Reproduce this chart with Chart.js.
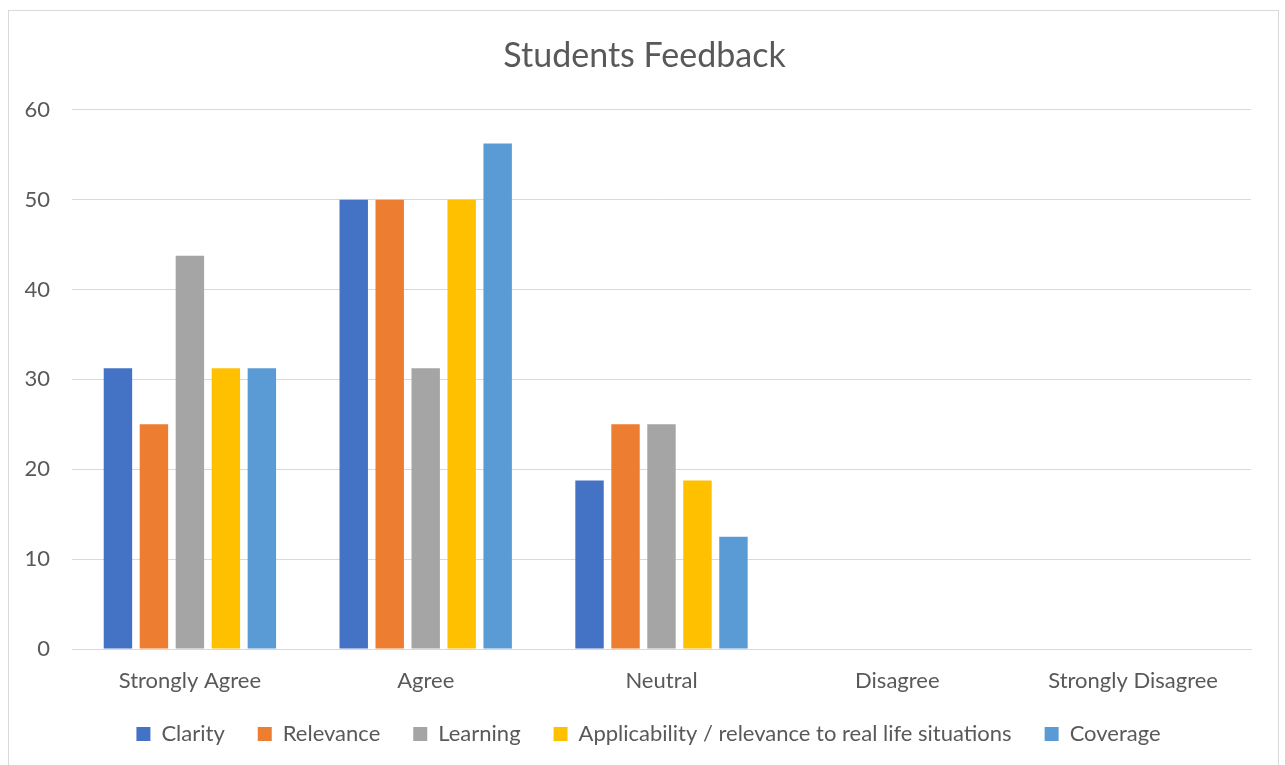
<!DOCTYPE html>
<html>
<head>
<meta charset="utf-8">
<script src="https://cdn.jsdelivr.net/npm/chart.js@4/dist/chart.umd.min.js"></script>
<style>
html,body{margin:0;padding:0;background:#fff;}
#wrap{position:absolute;left:0;top:0;width:1285px;height:765px;}
#frame{position:absolute;left:8px;top:10px;width:1271px;height:770px;border:1px solid #D9D9D9;box-sizing:border-box;}
canvas{position:absolute;left:0;top:0;}
</style>
</head>
<body>
<div id="wrap">
<div id="frame"></div>
<canvas id="c" width="1285" height="765"></canvas>
</div>
<script>
const categories = ["Strongly Agree", "Agree", "Neutral", "Disagree", "Strongly Disagree"];
const clarity = [31.25, 50, 18.75, 0, 0];
const relevance = [25, 50, 25, 0, 0];
const learning = [43.75, 31.25, 25, 0, 0];
const applicability = [31.25, 50, 18.75, 0, 0];
const coverage = [31.25, 56.25, 12.5, 0, 0];
const seriesNames = ["Clarity", "Relevance", "Learning", "Applicability / relevance to real life situations", "Coverage"];
const yTicks = [0, 10, 20, 30, 40, 50, 60];

const colors = ["#4472C4", "#ED7D31", "#A5A5A5", "#FFC000", "#5B9BD5"];
const seriesData = [clarity, relevance, learning, applicability, coverage];
const FONT = "Lato, 'Open Sans', sans-serif";
const TXT = "#595959";

const shiftPlugin = {
  id: 'shiftBlocks',
  afterLayout(chart) {
    const t = chart.titleBlock;
    if (t) { t.left += 19; t.right += 19; }
    const l = chart.legend;
    if (l) { l.left += 23; l.right += 23; l.top -= 3; l.bottom -= 3; }
  }
};

new Chart(document.getElementById('c'), {
  type: 'bar',
  data: {
    labels: categories,
    datasets: seriesData.map((d, i) => ({
      label: seriesNames[i],
      data: d,
      backgroundColor: colors[i],
      borderWidth: 0,
      categoryPercentage: 0.763,
      barPercentage: 0.79
    }))
  },
  plugins: [shiftPlugin],
  options: {
    responsive: false,
    animation: false,
    layout: { padding: { left: 0, right: 34, top: 36, bottom: 7 } },
    plugins: {
      title: {
        display: true,
        text: "Students Feedback",
        color: TXT,
        font: { family: FONT, size: 34, weight: 'normal' },
        padding: { top: 0, bottom: 33 }
      },
      legend: {
        position: 'bottom',
        labels: {
          color: TXT,
          font: { family: FONT, size: 22 },
          boxWidth: 14,
          boxHeight: 14,
          padding: 33
        }
      },
      tooltip: { enabled: false }
    },
    scales: {
      x: {
        grid: { display: false, drawTicks: false },
        border: { display: true, color: '#D9D9D9', width: 1 },
        ticks: { color: TXT, font: { family: FONT, size: 22 }, padding: 19, maxRotation: 0 },
        afterFit: (s) => { s.height = 44; }
      },
      y: {
        min: 0, max: 60,
        afterBuildTicks: (s) => { s.ticks = yTicks.map(v => ({ value: v })); },
        grid: { color: '#D9D9D9', lineWidth: 1, drawTicks: false },
        border: { display: false },
        ticks: { color: TXT, font: { family: FONT, size: 22 }, padding: 22 },
        afterFit: (s) => { s.width = 72; }
      }
    }
  }
});
</script>
</body>
</html>
